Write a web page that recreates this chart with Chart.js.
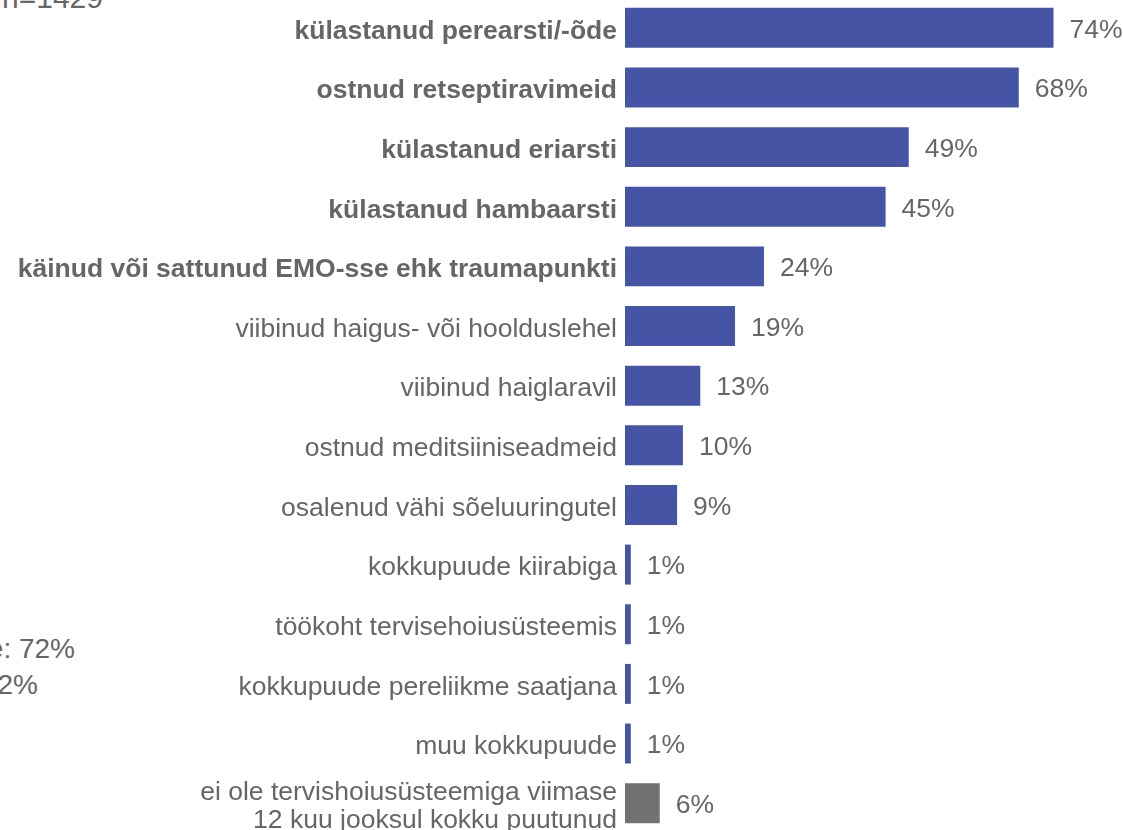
<!DOCTYPE html>
<html>
<head>
<meta charset="utf-8">
<script src="https://cdn.jsdelivr.net/npm/chart.js@4/dist/chart.umd.min.js"></script>
<style>
  body { margin: 0; background: #fff; overflow: hidden; font-family: "Liberation Sans", Arial, sans-serif; }
  #wrap { position: absolute; left: 0; top: -2px; width: 1123px; height: 835px; }
  .note { position: absolute; color: #666; font-size: 28px; line-height: 1; white-space: nowrap; }
</style>
</head>
<body>
<div class="note" style="right:1020px; top:-17px; font-size:30px;">n=1429</div>
<div class="note" style="right:1048px; top:635px;">keskmine: 72%</div>
<div class="note" style="right:1085px; top:671px;">kokku: 62%</div>
<div id="wrap"><canvas id="myChart"></canvas></div>
<script>
const categories = [
  "külastanud perearsti/-õde",
  "ostnud retseptiravimeid",
  "külastanud eriarsti",
  "külastanud hambaarsti",
  "käinud või sattunud EMO-sse ehk traumapunkti",
  "viibinud haigus- või hoolduslehel",
  "viibinud haiglaravil",
  "ostnud meditsiiniseadmeid",
  "osalenud vähi sõeluuringutel",
  "kokkupuude kiirabiga",
  "töökoht tervisehoiusüsteemis",
  "kokkupuude pereliikme saatjana",
  "muu kokkupuude",
  ["ei ole tervishoiusüsteemiga viimase", "12 kuu jooksul kokku puutunud"]
];
const values = [74, 68, 49, 45, 24, 19, 13, 10, 9, 1, 1, 1, 1, 6];
const boldCount = 5;
const blue = "#4654A6";
const grey = "#727272";

const valueLabels = {
  id: "valueLabels",
  afterDatasetsDraw(chart) {
    const ctx = chart.ctx;
    const meta = chart.getDatasetMeta(0);
    ctx.save();
    ctx.font = "26.5px 'Liberation Sans', Arial, sans-serif";
    ctx.fillStyle = "#666";
    ctx.textBaseline = "middle";
    meta.data.forEach((bar, i) => {
      ctx.fillText(values[i] + "%", bar.x + 16, bar.y + 2.5);
    });
    ctx.restore();
  }
};

function DrawPlot() {
  const ctx = document.getElementById("myChart");
  new Chart(ctx, {
    type: "bar",
    data: {
      labels: categories,
      datasets: [
        {
          data: values,
          backgroundColor: values.map((v, i) => (i === values.length - 1 ? grey : blue)),
          barPercentage: 0.67,
          categoryPercentage: 1.0,
        },
      ],
    },
    options: {
      indexAxis: "y",
      responsive: true,
      maintainAspectRatio: false,
      animation: false,
      layout: { padding: 0 },
      plugins: {
        legend: { display: false },
        tooltip: { enabled: false },
      },
      scales: {
        x: {
          display: false,
          min: 0,
          max: 86,
        },
        y: {
          grid: { display: false, drawTicks: false },
          border: { display: false },
          afterFit: function (scale) {
            scale.width = 625;
            scale.paddingTop = 0;
            scale.paddingBottom = 0;
          },
          ticks: {
            color: "#666",
            padding: 8,
            labelOffset: 3.5,
            font: function (c) {
              return {
                family: "'Liberation Sans', Arial, sans-serif",
                size: 26.5,
                weight: c.index < boldCount ? "bold" : "normal",
                lineHeight: 1.03,
              };
            },
          },
        },
      },
    },
    plugins: [valueLabels],
  });
}

DrawPlot();
</script>
</body>
</html>
